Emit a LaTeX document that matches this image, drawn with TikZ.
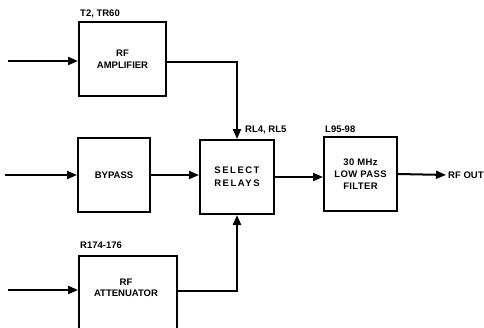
\documentclass[tikz,border=0pt]{standalone}
\usepackage{fontspec}
\setmainfont{Liberation Sans}
\usetikzlibrary{arrows.meta}
\begin{document}
\begin{tikzpicture}[x=1pt,y=-1pt,
  txt/.style={font=\bfseries\fontsize{9.5}{11.5}\selectfont},
  blk/.style={draw,line width=2pt,minimum width=#1,inner sep=0pt,align=center,txt},
  lbl/.style={txt,inner sep=0pt,anchor=west},
  wire/.style={line width=2pt},
  arr/.style={wire,-{Triangle[length=10pt,width=8pt]}}]
\useasboundingbox (0,0) rectangle (484,327);
\clip (0,0) rectangle (484,327);
\node[blk=87pt,minimum height=74pt] (amp) at (122.5,59) {RF\\AMPLIFIER};
\node[blk=72pt,minimum height=74pt] (byp) at (114,175) {BYPASS};
\node[blk=74pt,minimum height=74pt,font=\bfseries\fontsize{9.5}{13}\selectfont\addfontfeature{LetterSpace=16}] (sel) at (237,177) {SELECT\\RELAYS};
\node[blk=73pt,minimum height=74pt,font=\bfseries\fontsize{9.5}{12}\selectfont\addfontfeature{LetterSpace=4}] (lpf) at (360.5,174) {30 MHz\\LOW PASS\\FILTER};
\node[blk=98pt,minimum height=100pt,anchor=north] (att) at (128,255) {};
\node[txt,align=center] (atttxt) at (126,288) {RF\\ATTENUATOR};
\node[lbl] (lamp) at (80,14) {T2, TR60};
\node[lbl] (latt) at (80,245) {R174-176};
\node[lbl] (lsel) at (245,130) {RL4, RL5};
\node[lbl] (llpf) at (325,129) {L95-98};
\node[lbl] (rfout) at (448,175) {RF OUT};
\coordinate (i1) at (8,61);
\coordinate (i2) at (5,175);
\coordinate (i3) at (8,290);
\coordinate (c1) at (237,62);
\coordinate (c3) at (237,291);
\draw[arr] (i1) -- (i1 -| amp.west);
\draw[arr] (i2) -- (byp.west);
\draw[arr] (i3) -- (i3 -| att.west);
\draw[arr] (c1 -| amp.east) -- (c1) -- (sel.north);
\draw[arr] (c3 -| att.east) -- (c3) -- (sel.south);
\draw[arr] (byp.east) -- (byp.east -| sel.west);
\draw[arr] (sel.east) -- (sel.east -| lpf.west);
\draw[arr,shorten >=2pt] (lpf.east) -- (rfout.west);
\end{tikzpicture}
\end{document}
